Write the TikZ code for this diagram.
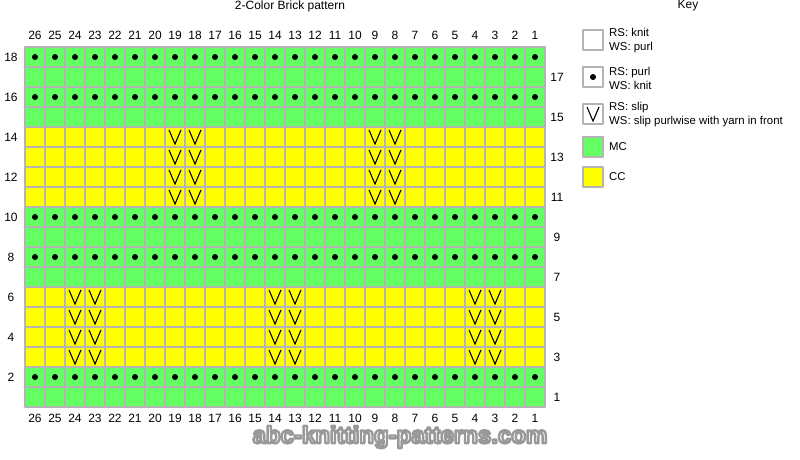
\documentclass[tikz,border=0pt]{standalone}
\usepackage{fontspec}
\setmainfont{Liberation Sans}
\definecolor{mcgreen}{HTML}{63FF63}
\definecolor{ccyellow}{HTML}{FFFF00}
\definecolor{gridgray}{HTML}{B4B4B4}
\newcommand{\outlinetext}[1]{\special{pdf:code q 2 Tr 2.4 w 0.6 0.6 0.6 RG}#1\special{pdf:code Q}}
\tikzset{
  gridline/.style={draw=gridgray, line width=1.3pt},
  keybox/.style={draw=gridgray, line width=1.3pt},
  slipmark/.style={draw=black, line width=1.1pt, line cap=butt, line join=miter},
  numlabel/.style={font=\fontsize{12}{14}\selectfont, inner sep=0pt},
  keytext/.style={font=\fontsize{11.4}{14}\selectfont, align=left, anchor=west, inner sep=0pt}
}
\begin{document}
\begin{tikzpicture}[x=1pt,y=-1pt,line cap=round,line join=round]
			\useasboundingbox (0,0) rectangle (800,460);
			% colour bands
			\fill[mcgreen] (25,47) rectangle (545,407);
			\fill[ccyellow] (25,127) rectangle (545,207);
			\fill[ccyellow] (25,287) rectangle (545,367);
			% grid
			\foreach \i in {0,...,26}
				\draw[gridline] (25+20*\i,47) -- (25+20*\i,407);
			\foreach \j in {0,...,18}
				\draw[gridline] (25,47+20*\j) -- (545,47+20*\j);
			% purl rows
			\foreach \r in {2,8,10,16,18}
				\foreach \c in {1,...,26}
					\fill (555-20*\c,417-20*\r) circle (3);
			% slip stitches
			\foreach \r in {3,...,6}
				\foreach \c in {24,23,14,13,4,3}
					\draw[slipmark] (549-20*\c,410-20*\r) -- (555-20*\c,424-20*\r) -- (561-20*\c,410-20*\r);
			\foreach \r in {11,...,14}
				\foreach \c in {19,18,9,8}
					\draw[slipmark] (549-20*\c,410-20*\r) -- (555-20*\c,424-20*\r) -- (561-20*\c,410-20*\r);
			% column numbers
			\foreach \c in {1,...,26} {
				\node[numlabel] (top\c) at (555-20*\c,35) {\c};
				\node[numlabel] (bot\c) at (555-20*\c,418) {\c};
			}
			% row numbers
			\foreach \r in {2,4,...,18}
				\node[numlabel] (row\r) at (11,417-20*\r) {\r};
			\foreach \r in {1,3,...,17}
				\node[numlabel] (row\r) at (557,417-20*\r) {\r};
			% titles
			\node[numlabel] (title) at (290,6) {2-Color Brick pattern};
			\node[numlabel] (keytitle) at (688,6) {Key};
			% key
			\filldraw[keybox, fill=white] (583,30) rectangle (603,50);
			\node[keytext] (kknit) at (609,41) {RS: knit\\WS: purl};
			\filldraw[keybox, fill=white] (583,67) rectangle (603,87);
			\fill (593,77) circle (3);
			\node[keytext] (kpurl) at (609,78) {RS: purl\\WS: knit};
			\filldraw[keybox, fill=white] (583,104) rectangle (603,124);
			\draw[slipmark] (587,107) -- (593,121) -- (599,107);
			\node[keytext] (kslip) at (609,115) {RS: slip\\WS: slip purlwise with yarn in front};
			\filldraw[keybox, fill=mcgreen] (583,137) rectangle (603,157);
			\node[keytext] (kmc) at (609,147) {MC};
			\filldraw[keybox, fill=ccyellow] (583,167) rectangle (603,187);
			\node[keytext] (kcc) at (609,177) {CC};
			% watermark
			\node[font=\bfseries\fontsize{24}{26}\selectfont, text=white, inner sep=0pt] (mark) at (400,437)
				{\outlinetext{abc-knitting-patterns.com}};
\end{tikzpicture}
\end{document}
